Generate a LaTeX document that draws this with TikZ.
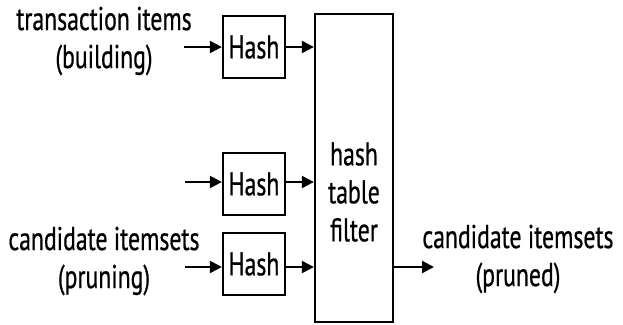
\documentclass[tikz,border=0pt]{standalone}
\usepackage{fontspec}
\setmainfont[FakeStretch=0.72, FakeBold=0.6]{PT Sans}
\usetikzlibrary{arrows.meta}
\tikzset{
  blk/.style={draw, line width=2.3pt, inner sep=0pt},
  lbl/.style={align=center, inner sep=0pt, font=\fontsize{33}{38}\selectfont},
  flow/.style={line width=2.3pt, -{Triangle[length=12pt,width=12pt]}}
}
\begin{document}
\begin{tikzpicture}[x=1pt,y=-1pt]
  \useasboundingbox (0,0) rectangle (623,324);
  % central filter block
  \node[blk, minimum width=78pt, minimum height=308pt] (filt) at (354,168) {};
  \node[lbl] (filttxt) at (354,192) {hash\\table\\filter};
  % three hash units
  \node[blk, minimum width=62pt, minimum height=62pt, lbl] (h1) at (254,47) {Hash};
  \node[blk, minimum width=62pt, minimum height=62pt, lbl] (h2) at (254,184) {Hash};
  \node[blk, minimum width=62pt, minimum height=62pt, lbl] (h3) at (254,264) {Hash};
  % inputs
  \node[lbl] (tin) at (104,41) {transaction items\\(building)};
  \node[lbl] (cin) at (104,261) {candidate itemsets\\(pruning)};
  \coordinate (s1) at (184,47);
  \coordinate (s2) at (185,182);
  \coordinate (s3) at (185,267);
  % output
  \coordinate (o) at (434,267);
  \node[lbl] (cout) at (518,259) {candidate itemsets\\(pruned)};
  % connectors
  \draw[flow] (s1) -- (h1.west |- s1);
  \draw[flow] (s2) -- (h2.west |- s2);
  \draw[flow] (s3) -- (h3.west |- s3);
  \draw[flow] (h1.east |- s1) -- (filt.west |- s1);
  \draw[flow] (h2.east |- s2) -- (filt.west |- s2);
  \draw[flow] (h3.east |- s3) -- (filt.west |- s3);
  \draw[flow] (filt.east |- o) -- (o);
\end{tikzpicture}
\end{document}
